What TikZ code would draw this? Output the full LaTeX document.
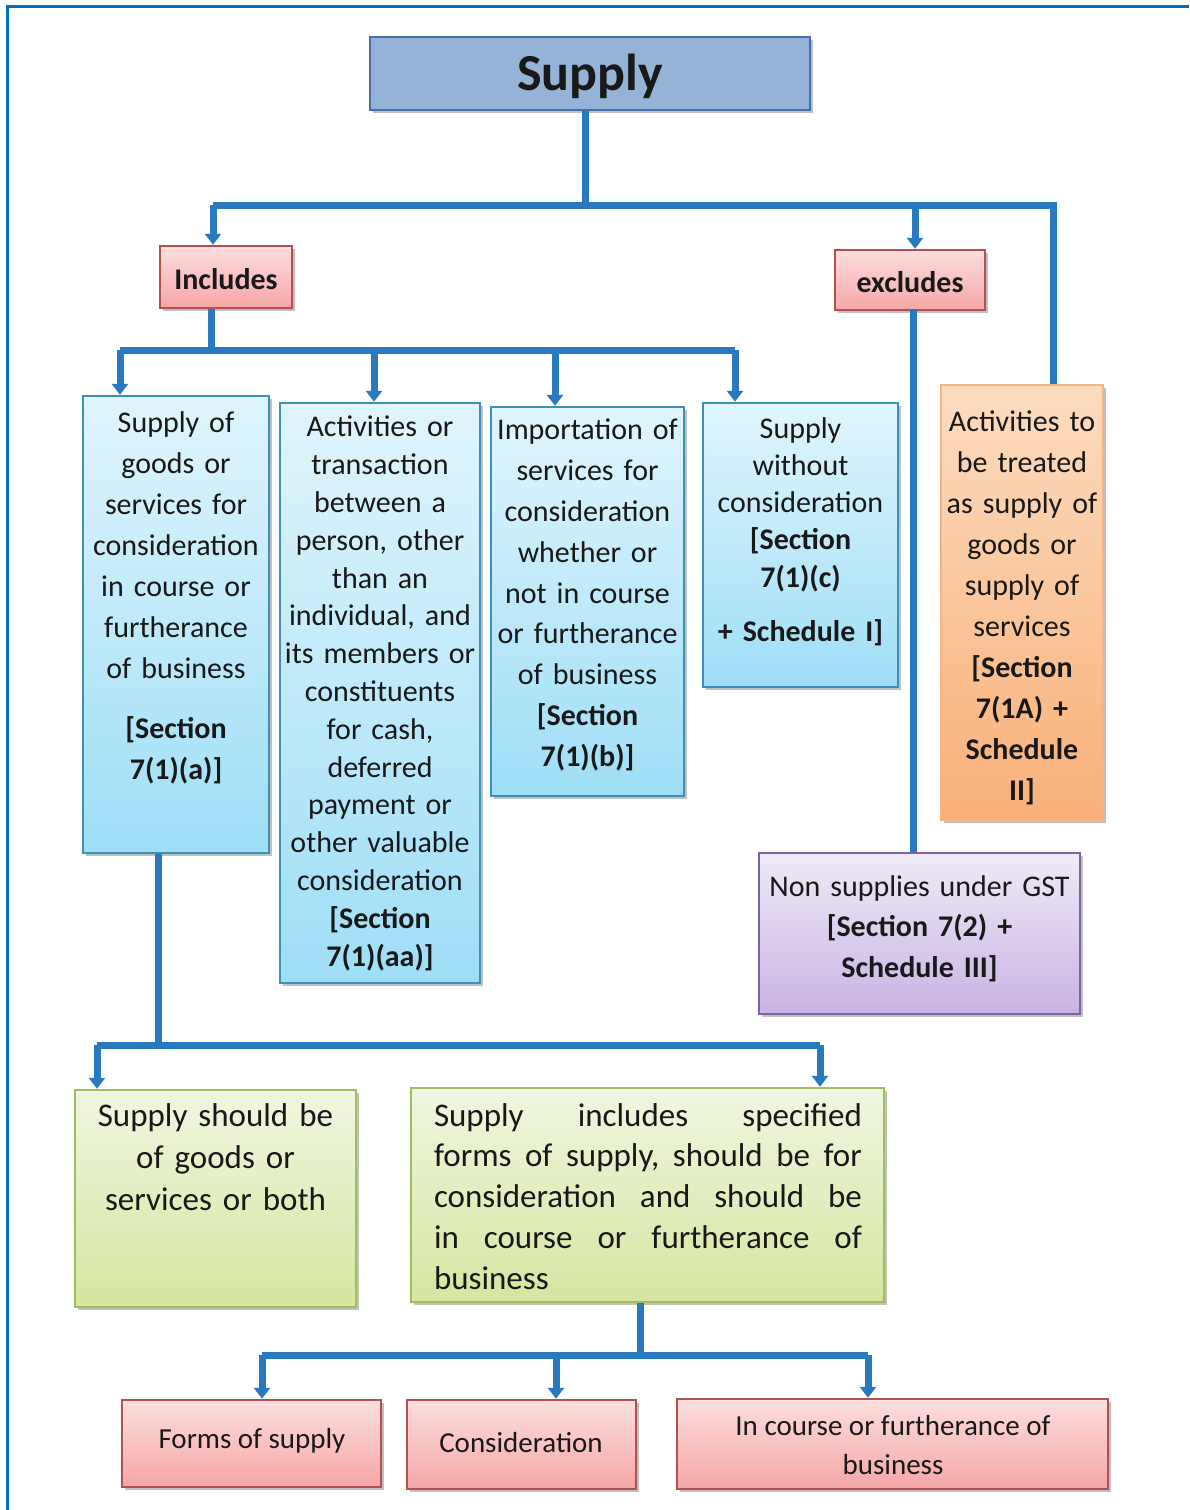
\documentclass[tikz,border=0pt]{standalone}
\usepackage{fontspec}
\setmainfont{Carlito}
\usetikzlibrary{arrows.meta,shadows}

% palette
\definecolor{connblue}{RGB}{41,121,192}
\definecolor{framblue}{RGB}{0,112,192}
\definecolor{supfill}{RGB}{149,179,215}
\definecolor{supline}{RGB}{70,110,170}
\definecolor{pinktop}{RGB}{252,222,222}
\definecolor{pinkbot}{RGB}{246,166,166}
\definecolor{pinkline}{RGB}{180,80,80}
\definecolor{cyantop}{RGB}{224,245,252}
\definecolor{cyanbot}{RGB}{158,222,246}
\definecolor{cyanline}{RGB}{60,145,185}
\definecolor{orgtop}{RGB}{252,220,192}
\definecolor{orgbot}{RGB}{249,176,120}
\definecolor{orgline}{RGB}{245,180,130}
\definecolor{purtop}{RGB}{240,234,246}
\definecolor{purbot}{RGB}{200,180,228}
\definecolor{purline}{RGB}{128,100,162}
\definecolor{grntop}{RGB}{240,246,224}
\definecolor{grnbot}{RGB}{214,229,160}
\definecolor{grnline}{RGB}{160,190,95}

\tikzset{
  box/.style={line width=2.5pt, inner sep=0pt,
    drop shadow={shadow xshift=3pt, shadow yshift=-3pt, opacity=0.35, fill=black!70}},
  supbox/.style={box, draw=supline, fill=supfill},
  pinkbox/.style={box, draw=pinkline, top color=pinktop, bottom color=pinkbot},
  cyanbox/.style={box, draw=cyanline, top color=cyantop, bottom color=cyanbot},
  orgbox/.style={box, draw=orgline, top color=orgtop, bottom color=orgbot},
  purbox/.style={box, draw=purline, top color=purtop, bottom color=purbot},
  grnbox/.style={box, draw=grnline, top color=grntop, bottom color=grnbot},
  txt/.style={inner sep=0pt, align=center, text=black!90},
  conn/.style={draw=connblue, line width=7pt, line join=miter},
  arr/.style={-{Triangle[width=16pt,length=11pt]}},
}

\begin{document}
\begin{tikzpicture}[x=1pt,y=-1pt]
\useasboundingbox (0,0) rectangle (1189,1510);
\fill[white] (0,0) rectangle (1189,1510);
% page frame
\draw[framblue, line width=3pt] (7,1510) -- (7,6) -- (1189,6);

% ---- boxes ----
\node[supbox, minimum width=440pt, minimum height=73pt] (sup) at (590,73.5) {};
\node[txt, font=\fontsize{52}{60}\selectfont\bfseries] (supt) at (590,76) {Supply};

\node[pinkbox, minimum width=132pt, minimum height=62pt] (incl) at (226,277) {};
\node[txt, font=\fontsize{30}{36}\selectfont\bfseries] (inclt) at (226,279) {Includes};
\node[pinkbox, minimum width=150pt, minimum height=60pt] (excl) at (910,280) {};
\node[txt, font=\fontsize{30}{36}\selectfont\bfseries] (exclt) at (910,282) {excludes};

\node[cyanbox, minimum width=186pt, minimum height=457pt] (b1) at (176,624.5) {};
\node[txt, anchor=north, text width=184pt, font=\fontsize{30}{41}\selectfont] (b1t) at (176,411)
  {Supply of\\goods or\\services for\\consideration\\in course or\\furtherance\\of business\\[19pt]\textbf{[Section}\\\textbf{7(1)(a)]}};

\node[cyanbox, minimum width=200pt, minimum height=580pt] (b2) at (380,693) {};
\node[txt, anchor=north, text width=198pt, font=\fontsize{30}{37.8}\selectfont] (b2t) at (380,416)
  {Activities or\\transaction\\between a\\person, other\\than an\\individual, and\\its members or\\constituents\\for cash,\\deferred\\payment or\\other valuable\\consideration\\\textbf{[Section}\\\textbf{7(1)(aa)]}};

\node[cyanbox, minimum width=193pt, minimum height=389pt] (b3) at (587.5,601.5) {};
\node[txt, anchor=north, text width=191pt, font=\fontsize{30}{40.8}\selectfont] (b3t) at (587.5,419)
  {Importation of\\services for\\consideration\\whether or\\not in course\\or furtherance\\of business\\\textbf{[Section}\\\textbf{7(1)(b)]}};

\node[cyanbox, minimum width=195pt, minimum height=284pt] (b4) at (800.5,545) {};
\node[txt, anchor=north, text width=193pt, font=\fontsize{30}{37.3}\selectfont] (b4t) at (800.5,417)
  {Supply\\without\\consideration\\\textbf{[Section}\\\textbf{7(1)(c)}\\[17pt]\textbf{+ Schedule I]}};

\node[orgbox, minimum width=162pt, minimum height=435pt] (b5) at (1022,602.5) {};
\node[txt, anchor=north, text width=160pt, font=\fontsize{30}{40.9}\selectfont] (b5t) at (1022,411)
  {Activities to\\be treated\\as supply of\\goods or\\supply of\\services\\\textbf{[Section}\\\textbf{7(1A) +}\\\textbf{Schedule}\\\textbf{II]}};

\node[purbox, minimum width=321pt, minimum height=161pt] (b6) at (919.5,933.5) {};
\node[txt, anchor=north, text width=319pt, font=\fontsize{30}{40.5}\selectfont] (b6t) at (919.5,875)
  {Non supplies under GST\\\textbf{[Section 7(2) +}\\\textbf{Schedule III]}};

\node[grnbox, minimum width=281pt, minimum height=217pt] (g1) at (215.5,1198.5) {};
\node[txt, anchor=north, text width=279pt, font=\fontsize{33}{42}\selectfont] (g1t) at (215.5,1103)
  {Supply should be\\of goods or\\services or both};

\node[grnbox, minimum width=473pt, minimum height=214pt] (g2) at (647.5,1195) {};
\node[txt, anchor=north, align=left, text width=428pt, font=\fontsize{33}{40.8}\selectfont] (g2t) at (648,1103)
  {Supply\hfill includes\hfill specified\\forms\hfill of\hfill supply,\hfill should\hfill be\hfill for\\consideration\hfill and\hfill should\hfill be\\in\hfill course\hfill or\hfill furtherance\hfill of\\business};

\node[pinkbox, minimum width=259pt, minimum height=87pt] (r1) at (251.5,1443.5) {};
\node[txt, font=\fontsize{29}{39}\selectfont] (r1t) at (252,1441) {Forms of supply};
\node[pinkbox, minimum width=229pt, minimum height=89pt] (r2) at (521.5,1444.5) {};
\node[txt, font=\fontsize{29}{39}\selectfont] (r2t) at (521,1443) {Consideration};
\node[pinkbox, minimum width=431pt, minimum height=90pt] (r3) at (892.5,1444) {};
\node[txt, font=\fontsize{29}{39}\selectfont] (r3t) at (893,1445) {In course or furtherance of\\business};

% ---- junction points ----
\coordinate (hL) at (213,205);
\coordinate (hR) at (1053,205);
\coordinate (hS) at (585,205);
\coordinate (hX) at (915,205);
\coordinate (iS) at (211,350);
\coordinate (i1) at (120,350);
\coordinate (i2) at (374,350);
\coordinate (i3) at (555,350);
\coordinate (i4) at (735,350);
\coordinate (xS) at (913,310);
\coordinate (gS) at (158,1045);
\coordinate (gL) at (97,1045);
\coordinate (gR) at (820,1045);
\coordinate (fS) at (640,1355);
\coordinate (f1) at (262,1355);
\coordinate (f2) at (556,1355);
\coordinate (f3) at (868,1355);

% ---- connectors ----
\draw[conn] (sup.south -| hS) -- (hS);
\draw[conn] (hL) -- (hR) -- (hR |- b5.north);
\draw[conn, arr] (hL) -- (hL |- incl.north);
\draw[conn, arr] (hX) -- (hX |- excl.north);
\draw[conn] (xS) -- (xS |- b6.north);

\draw[conn] (incl.south -| iS) -- (iS);
\draw[conn] (i1) -- (i4);
\draw[conn, arr] (i1) -- (i1 |- b1.north);
\draw[conn, arr] (i2) -- (i2 |- b2.north);
\draw[conn, arr] (i3) -- (i3 |- b3.north);
\draw[conn, arr] (i4) -- (i4 |- b4.north);

\draw[conn] (b1.south -| gS) -- (gS);
\draw[conn] (gL) -- (gR);
\draw[conn, arr] (gL) -- (gL |- g1.north);
\draw[conn, arr] (gR) -- (gR |- g2.north);

\draw[conn] (g2.south -| fS) -- (fS);
\draw[conn] (f1) -- (f3);
\draw[conn, arr] (f1) -- (f1 |- r1.north);
\draw[conn, arr] (f2) -- (f2 |- r2.north);
\draw[conn, arr] (f3) -- (f3 |- r3.north);
\end{tikzpicture}
\end{document}
